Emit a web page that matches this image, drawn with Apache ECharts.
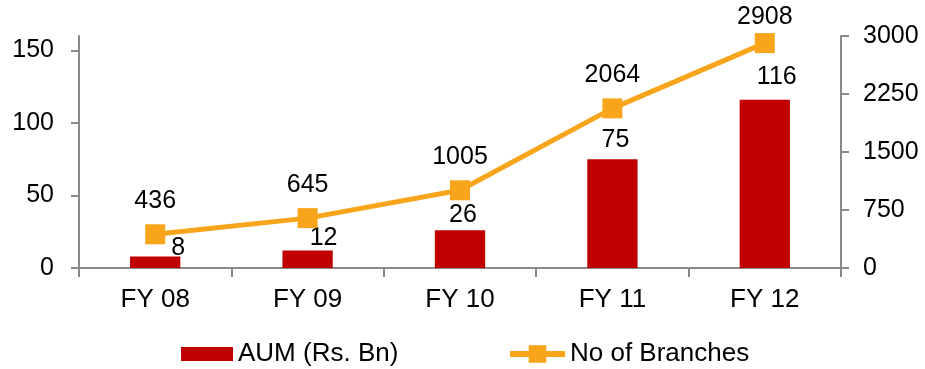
<!DOCTYPE html>
<html>
<head>
<meta charset="utf-8">
<script src="https://cdn.jsdelivr.net/npm/echarts@6/dist/echarts.min.js"></script>
<style>
  html, body { margin: 0; padding: 0; background: #fff; }
  #chart { width: 925px; height: 369px; }
</style>
</head>
<body>
<div id="chart"></div>
<script>
// Fiscal years on the category axis
const categories = ['FY 08', 'FY 09', 'FY 10', 'FY 11', 'FY 12'];
// Assets under management, Rs. billion (left axis)
const aum = [8, 12, 26, 75, 116];
// Branch count (right axis)
const branches = [436, 645, 1005, 2064, 2908];
// Tick labels for both value axes
const leftTicks = [0, 50, 100, 150];
const rightTicks = [0, 750, 1500, 2250, 3000];

const FONT = '"Liberation Sans", Arial, sans-serif';
const AXIS_GREY = '#898989';
const BAR_RED = '#C00000';
const LINE_ORANGE = '#F9A51B';

// per-bar nudges keep the value labels clear of the branch line
const barLabelNudge = [[23, 4], [16, 0], [3, -3], [3, -7], [12, -10]];
// the last branch label sits a little lower so it stays inside the frame
const lineLabelNudge = [[0, 0], [0, 0], [0, 0], [0, 0], [0, 7]];

const chart = echarts.init(document.getElementById('chart'), null, { renderer: 'canvas' });

chart.setOption({
  animation: false,
  textStyle: { fontFamily: FONT },
  grid: { left: 79, right: 84, top: 36, bottom: 101, containLabel: false },
  legend: [
    {
      left: 181,
      top: 341,
      padding: 0,
      icon: 'rect',
      itemWidth: 52,
      itemHeight: 14,
      textStyle: { fontSize: 26, color: '#000', fontFamily: FONT },
      data: ['AUM (Rs. Bn)']
    },
    {
      left: 507,
      top: 341,
      padding: 0,
      itemWidth: 55,
      itemHeight: 22,
      textStyle: { fontSize: 26, color: '#000', fontFamily: FONT },
      data: [{ name: 'No of Branches', lineStyle: { width: 6 } }]
    }
  ],
  xAxis: {
    type: 'category',
    data: categories,
    boundaryGap: true,
    axisLine: { lineStyle: { color: AXIS_GREY, width: 2 } },
    axisTick: { show: true, alignWithLabel: false, length: 9, lineStyle: { color: AXIS_GREY, width: 2 } },
    axisLabel: { fontSize: 26, color: '#000', margin: 19, fontFamily: FONT },
    splitLine: { show: false }
  },
  yAxis: [
    {
      type: 'value',
      min: 0,
      max: 160,
      interval: 50,
      position: 'left',
      axisLine: { show: true, lineStyle: { color: AXIS_GREY, width: 2 } },
      axisTick: { show: true, length: 8, customValues: leftTicks, lineStyle: { color: AXIS_GREY, width: 2 } },
      axisLabel: { fontSize: 25, color: '#000', margin: 25, customValues: leftTicks, fontFamily: FONT },
      splitLine: { show: false }
    },
    {
      type: 'value',
      min: 0,
      max: 3000,
      interval: 750,
      position: 'right',
      axisLine: { show: true, lineStyle: { color: AXIS_GREY, width: 2 } },
      axisTick: { show: true, length: 8, customValues: rightTicks, lineStyle: { color: AXIS_GREY, width: 2 } },
      axisLabel: {
        fontSize: 25, color: '#000', margin: 22, customValues: rightTicks, fontFamily: FONT,
        formatter: v => String(v)
      },
      splitLine: { show: false }
    }
  ],
  series: [
    {
      name: 'AUM (Rs. Bn)',
      type: 'bar',
      yAxisIndex: 0,
      barWidth: '33%',
      itemStyle: { color: BAR_RED },
      data: aum.map((v, i) => ({
        value: v,
        label: { offset: barLabelNudge[i] }
      })),
      label: {
        show: true,
        position: 'top',
        distance: 0,
        fontSize: 25,
        color: '#000',
        fontFamily: FONT
      },
      z: 2
    },
    {
      name: 'No of Branches',
      type: 'line',
      yAxisIndex: 1,
      data: branches.map((v, i) => ({
        value: v,
        label: { offset: lineLabelNudge[i] }
      })),
      symbol: 'rect',
      symbolSize: 20,
      lineStyle: { color: LINE_ORANGE, width: 5 },
      itemStyle: { color: LINE_ORANGE },
      label: {
        show: true,
        position: 'top',
        distance: 11,
        fontSize: 25,
        color: '#000',
        fontFamily: FONT
      },
      z: 3
    }
  ]
});
</script>
</body>
</html>
